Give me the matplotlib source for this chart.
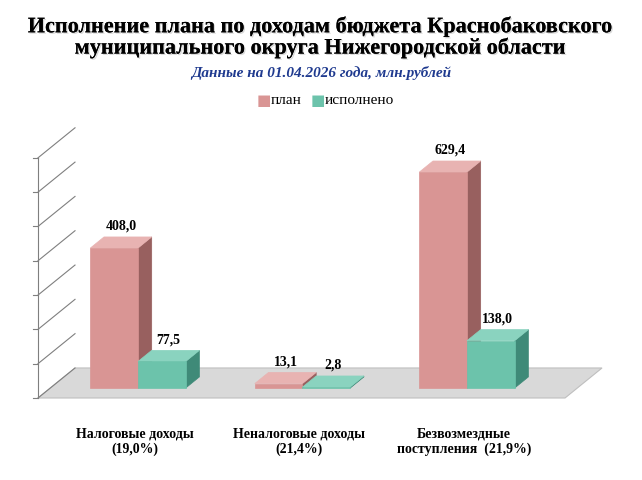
import matplotlib.pyplot as plt
from matplotlib.patches import Polygon
import matplotlib.patheffects as pe

categories = ['Налоговые доходы\n(19,0%)', 'Неналоговые доходы\n(21,4%)', 'Безвозмездные\nпоступления  (21,9%)']
plan = [408.0, 13.1, 629.4]
done = [77.5, 2.8, 138.0]
labels_plan = ['408,0', '13,1', '629,4']
labels_done = ['77,5', '2,8', '138,0']
grid_vals = [0, 100, 200, 300, 400, 500, 600, 700]

plt.rcParams['font.family'] = ['Liberation Serif', 'DejaVu Serif']

fig = plt.figure(figsize=(6.42, 4.8), dpi=100)
ax = fig.add_axes([0, 0, 1, 1])
ax.set_xlim(-0.839, 3.064)
ax.set_ylim(-239, 1160)
ax.axis('off')

DX, DY = 0.225, 87.5          # full floor depth
xl, xr = -0.608, 2.596        # floor left/right front edges
base = 29                     # bars sit 1/3 into the depth

# floor
ax.add_patch(Polygon([(xl, 0), (xr, 0), (xr + DX, DY), (xl + DX, DY)],
                     facecolor='#d9d9d9', edgecolor='#bfbfbf', lw=0.8, zorder=1))
# left axis and wall gridlines
ax.plot([xl, xl], [0, grid_vals[-1]], color='#7f7f7f', lw=0.8, zorder=1)
for g in grid_vals:
    ax.plot([xl, xl + DX], [g, g + DY], color='#7f7f7f', lw=0.8, zorder=1)
    ax.plot([xl - 0.03, xl], [g, g], color='#7f7f7f', lw=0.8, zorder=1)

w = 0.29
sx, sy = 0.37 * DX, 0.37 * DY


def bar3d(x, v, front, side, top):
    ax.add_patch(Polygon([(x + w, base), (x + w + sx, base + sy), (x + w + sx, base + v + sy), (x + w, base + v)],
                         facecolor=side, edgecolor=side, lw=0.5, zorder=3))
    ax.add_patch(Polygon([(x, base + v), (x + w, base + v), (x + w + sx, base + v + sy), (x + sx, base + v + sy)],
                         facecolor=top, edgecolor=top, lw=0.5, zorder=3))
    ax.add_patch(Polygon([(x, base), (x + w, base), (x + w, base + v), (x, base + v)],
                         facecolor=front, edgecolor=front, lw=0.5, zorder=3))


for i in range(len(categories)):
    bar3d(i - w, plan[i], '#d99594', '#98605f', '#e8b3b2')
    bar3d(i, done[i], '#6cc3ab', '#3f8a78', '#8ad3bf')
    ax.text(i - w / 2 + sx / 2, base + plan[i] + sy + 12, labels_plan[i],
            ha='center', va='bottom', fontsize=10, fontweight='bold', zorder=5)
    ax.text(i + w / 2 + sx / 2, base + done[i] + sy + 12, labels_done[i],
            ha='center', va='bottom', fontsize=10, fontweight='bold', zorder=5)
    ax.text(i - 0.02, -85, categories[i], ha='center', va='top', fontsize=10, fontweight='bold')

fig.text(0.5, 0.965, 'Исполнение плана по доходам бюджета Краснобаковского\nмуниципального округа Нижегородской области',
         ha='center', va='top', fontsize=16, fontweight='bold', linespacing=1.05,
         path_effects=[pe.withSimplePatchShadow(offset=(1, -1), alpha=0.15), pe.Normal()])
fig.text(0.5, 0.848, 'Данные на 01.04.2026 года, млн.рублей', ha='center', va='center',
         fontsize=11, fontweight='bold', style='italic', color='#1f3a8f')

# legend
fig.text(0.400, 0.79, '■', color='#d99594', ha='left', va='center', fontsize=11, family='DejaVu Sans')
fig.text(0.422, 0.79, 'план', ha='left', va='center', fontsize=11)
fig.text(0.484, 0.79, '■', color='#6cc3ab', ha='left', va='center', fontsize=11, family='DejaVu Sans')
fig.text(0.506, 0.79, 'исполнено', ha='left', va='center', fontsize=11)

fig.savefig('out.png', dpi=100)
plt.close(fig)
